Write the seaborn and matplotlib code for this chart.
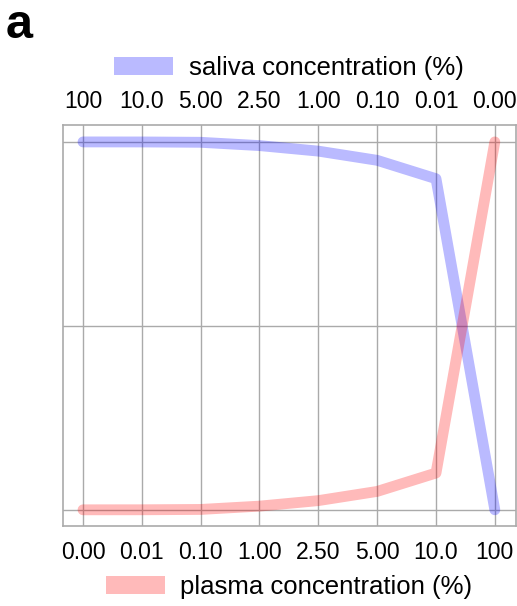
import matplotlib
matplotlib.use("Agg")
import matplotlib.pyplot as plt
import seaborn as sns
import pandas as pd
from matplotlib.patches import Patch

sns.set_style("white")
plt.rcParams['font.family'] = ['Liberation Sans', 'DejaVu Sans']
plt.rcParams['text.color'] = 'black'
plt.rcParams['xtick.color'] = 'black'
plt.rcParams['ytick.color'] = 'black'

positions = [0, 1, 2, 3, 4, 5, 6, 7]
plasma_labels = ["0.00", "0.01", "0.10", "1.00", "2.50", "5.00", "10.0", "100"]
saliva_labels = ["100", "10.0", "5.00", "2.50", "1.00", "0.10", "0.01", "0.00"]
saliva_values = [1.0, 0.9999, 0.999, 0.99, 0.975, 0.95, 0.9, 0.0]
plasma_values = [0.0, 0.0001, 0.001, 0.01, 0.025, 0.05, 0.1, 1.0]
series_names = ["saliva concentration (%)", "plasma concentration (%)"]

df = pd.DataFrame({
    "pos": positions * 2,
    "value": saliva_values + plasma_values,
    "series": [series_names[0]] * len(positions) + [series_names[1]] * len(positions),
})

blue = (0, 0, 1)
red = (1, 0, 0)
alpha = 0.27

fig = plt.figure(figsize=(5.17, 6.06), dpi=100)
ax = fig.add_axes([63 / 517, 1 - 526 / 606, (516 - 63) / 517, (526 - 125) / 606])

sns.lineplot(data=df, x="pos", y="value", hue="series",
             palette={series_names[0]: blue, series_names[1]: red},
             linewidth=7.8, alpha=alpha, legend=False, ax=ax,
             solid_capstyle="round", solid_joinstyle="round")

ax.set_xlim(-0.34, 7.36)
ax.set_ylim(-0.044, 1.046)
ax.set_xticks(positions)
ax.set_xticklabels(plasma_labels, fontsize=16.5)
ax.set_yticks([0, 0.5, 1.0])
ax.set_yticklabels([])
ax.set_xlabel("")
ax.set_ylabel("")
ax.grid(True, color="#aaaaaa", linewidth=1)
ax.set_axisbelow(True)
ax.tick_params(axis="both", length=0, pad=10.5)
for s in ax.spines.values():
    s.set_color("#aaaaaa")
    s.set_linewidth(1.2)

ax2 = ax.twiny()
ax2.set_xlim(ax.get_xlim())
ax2.set_xticks(positions)
ax2.set_xticklabels(saliva_labels, fontsize=16.5)
ax2.tick_params(axis="x", length=0, pad=8.5)
for s in ax2.spines.values():
    s.set_visible(False)

h_sal = Patch(facecolor=blue, alpha=alpha, edgecolor="none")
h_pla = Patch(facecolor=red, alpha=alpha, edgecolor="none")
leg_kw = dict(loc="center", frameon=False, fontsize=18.5, handlelength=2.3,
              handleheight=0.7, handletextpad=0.6)
fig.legend([h_sal], [series_names[0]], bbox_to_anchor=(289 / 517, 1 - 68 / 606), **leg_kw)
fig.legend([h_pla], [series_names[1]], bbox_to_anchor=(289 / 517, 1 - 587 / 606), **leg_kw)

fig.text(6 / 517, 1 - 38 / 606, "a", fontsize=35, fontweight="bold", color="black",
         ha="left", va="baseline")

fig.savefig("out.png", dpi=100)
